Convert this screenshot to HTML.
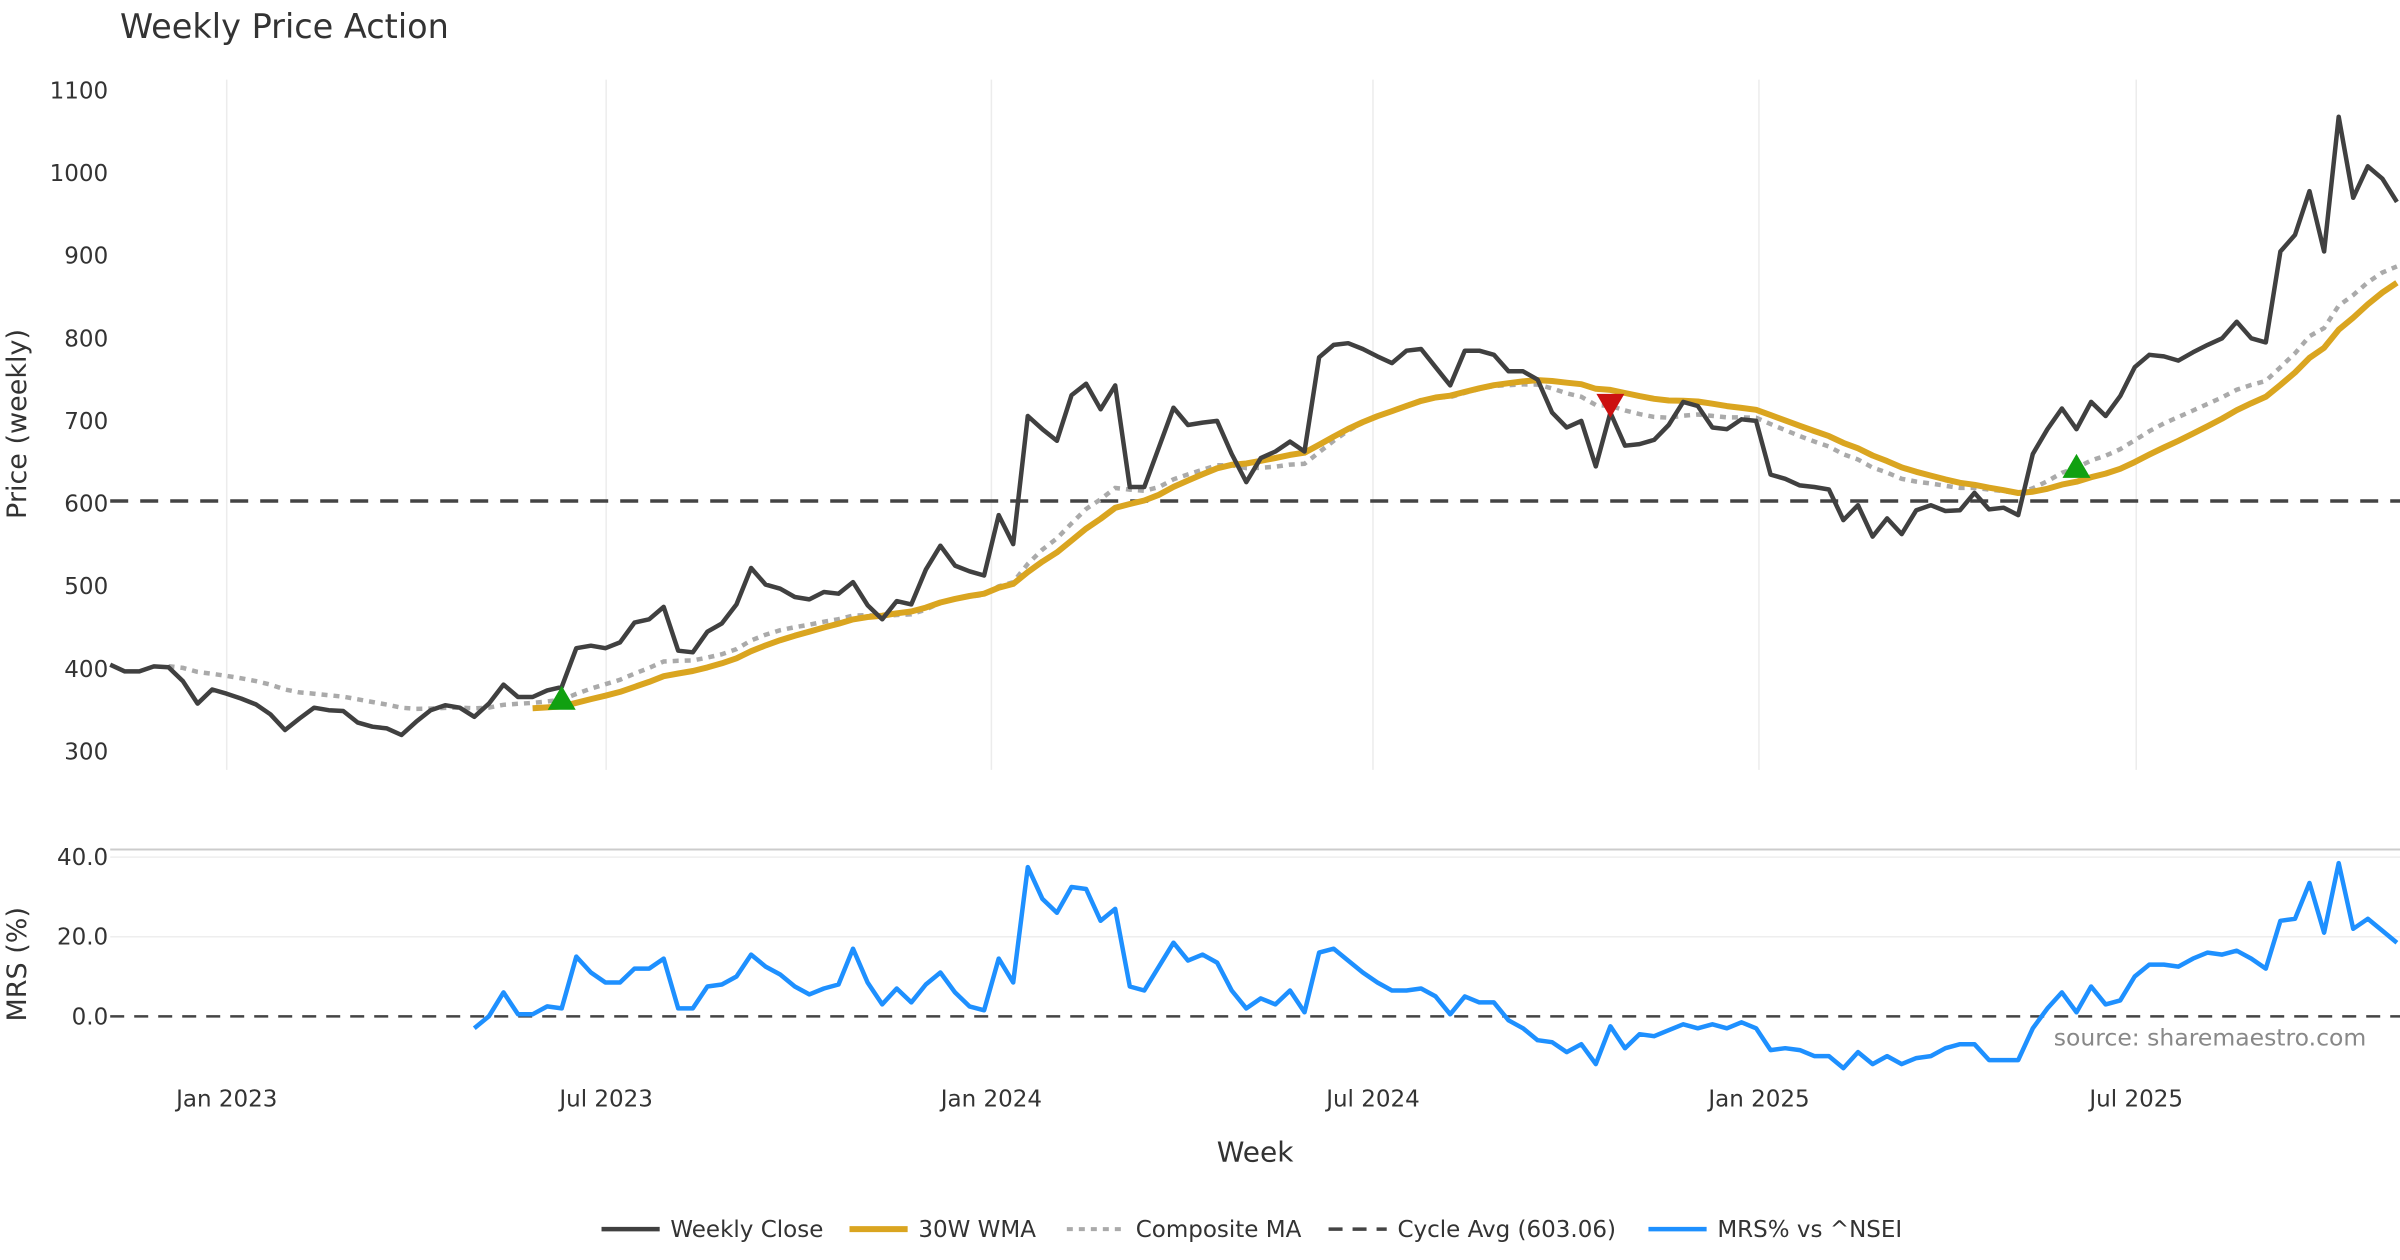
<!DOCTYPE html>
<html><head><meta charset="utf-8"><style>
html,body{margin:0;padding:0;background:#fff;}
svg{display:block;font-family:"DejaVu Sans","Liberation Sans",sans-serif;}
</style></head><body>
<svg id="chart" width="2400" height="1260" viewBox="0 0 2400 1260" xmlns="http://www.w3.org/2000/svg">
<rect width="2400" height="1260" fill="#fff"/>
<text x="120" y="38" font-size="33.5" fill="#333">Weekly Price Action</text>
<g id="grid"></g><g id="series"></g><g id="axes"></g>
</svg>
<script>
const closes = [405,397,397,403,402,385,358,375,370,364,357,345,326,340,353,350,349,335,330,328,320,336,350,356,353,342,358,381,366,366,374,378,425,428,425,432,456,460,475,422,420,445,455,478,522,502,497,487,484,493,491,505,477,460,482,478,520,549,525,518,513,586,551,706,690,676,731,745,714,743,620,620,668,716,695,698,700,660,626,655,663,675,663,777,792,794,787,778,770,785,787,765,743,785,785,780,760,760,750,710,692,700,645,710,670,672,677,695,723,718,692,690,702,700,635,630,622,620,617,580,598,560,582,563,592,598,591,592,613,593,595,586,660,690,715,690,723,706,730,765,780,778,773,783,792,800,820,800,795,905,925,978,905,1068,970,1008,993,965];
const mrsStart = 25;
const mrsValues = [-3,0,6,0.5,0.5,2.5,2,15,11,8.5,8.5,12,12,14.5,2,2,7.5,8,10,15.5,12.5,10.5,7.5,5.5,7,8,17,8.5,3,7,3.5,8,11,6,2.5,1.5,14.5,8.5,37.5,29.5,26,32.5,32,24,27,7.5,6.5,12.5,18.5,14,15.5,13.5,6.5,2,4.5,3,6.5,1,16,17,14,11,8.5,6.5,6.5,7,5,0.5,5,3.5,3.5,-1,-3,-6,-6.5,-9,-7,-12,-2.5,-8,-4.5,-5,-3.5,-2,-3,-2,-3,-1.5,-3,-8.5,-8,-8.5,-10,-10,-13,-9,-12,-10,-12,-10.5,-10,-8,-7,-7,-11,-11,-11,-3,2,6,1,7.5,3,4,10,13,13,12.5,14.5,16,15.5,16.5,14.5,12,24,24.5,33.5,21,38.5,22,24.5,21.5,18.5];
const cycleAvg = 603.06;
const buySignals = [31,135];
const sellSignals = [103];
const priceTicks = [300,400,500,600,700,800,900,1000,1100];
const mrsTicks = [0,20,40];
const monthLabels = ["Jan 2023","Jul 2023","Jan 2024","Jul 2024","Jan 2025","Jul 2025"];
const monthIdx = [8,34.05,60.5,86.7,113.2,139.1];

const S=1.5306;
const NS="http://www.w3.org/2000/svg";
const xOf=i=>(72+i*(1566-72)/157)*S;
const yP=p=>(59+(1100-p)*0.54)*S;
const yM=m=>(664-m*2.6)*S;
function mk(tag,attrs,parent){const e=document.createElementNS(NS,tag);for(const k in attrs)e.setAttribute(k,attrs[k]);parent.appendChild(e);return e;}
const grid=document.getElementById('grid'),ser=document.getElementById('series'),ax=document.getElementById('axes');

const wma=closes.map((c,i)=>{if(i<29)return null;let s=0,w=0;for(let k=0;k<30;k++){s+=closes[i-29+k]*(k+1);w+=k+1;}return s/w;});
function ema(n){const a=2/(n+1);let e=closes[0];return closes.map((c,i)=>{e=i===0?c:a*c+(1-a)*e;return e;});}
const e10=ema(10),e20=ema(20),e30=ema(30);
const comp=closes.map((c,i)=>i<4?null:(e10[i]+e20[i]+e30[i])/3);

monthIdx.forEach((mi,j)=>{
  const x=xOf(mi);
  let l=mk('line',{x1:x,x2:x,y1:52*S,y2:503*S,stroke:'#ececec','stroke-width':1.5},grid);
  
  
  let t=mk('text',{x:x,y:723*S,'font-size':23,fill:'#333','text-anchor':'middle'},ax);
  t.textContent=monthLabels[j];
  
  
});
priceTicks.forEach(p=>{
  let t=mk('text',{x:72*S-2,y:yP(p)+8,'font-size':23,fill:'#333','text-anchor':'end'},ax);
  t.textContent=p;
  
  
});
let b=mk('line',{x1:72*S,x2:2400,y1:555*S,y2:555*S,stroke:'#ccc','stroke-width':2},grid);


mrsTicks.forEach(m=>{
  if(m>0){let g=mk('line',{x1:72*S,x2:2400,y1:yM(m),y2:yM(m),stroke:'#eee','stroke-width':1.5},grid);
  
  }
  let t=mk('text',{x:72*S-2,y:yM(m)+8,'font-size':23,fill:'#333','text-anchor':'end'},ax);
  t.textContent=m.toFixed(1);
  
  
});
let cl=mk('line',{x1:72*S,x2:2400,y1:yP(cycleAvg),y2:yP(cycleAvg),stroke:'#444','stroke-width':3.5,'stroke-dasharray':'18,12'},ser);


let zl=mk('line',{x1:72*S,x2:2400,y1:yM(0),y2:yM(0),stroke:'#444','stroke-width':2.5,'stroke-dasharray':'14,10'},ser);



function poly(vals,yf,off){const pts=[];vals.forEach((v,i)=>{if(v!==null)pts.push(xOf(i+off).toFixed(1)+','+yf(v).toFixed(1));});return pts.join(' ');}
let pc=mk('polyline',{points:poly(comp,yP,0),fill:'none',stroke:'#aaa','stroke-width':4.5,'stroke-dasharray':'6,6'},ser);


let pw=mk('polyline',{points:poly(wma,yP,0),fill:'none',stroke:'#DAA520','stroke-width':6,'stroke-linejoin':'round'},ser);


let pcl=mk('polyline',{points:poly(closes,yP,0),fill:'none',stroke:'#404040','stroke-width':4.5,'stroke-linejoin':'round'},ser);


let pm=mk('polyline',{points:poly(mrsValues,yM,mrsStart),fill:'none',stroke:'#1E90FF','stroke-width':4.5,'stroke-linejoin':'round'},ser);



buySignals.forEach(i=>{const x=xOf(i),y=yP(comp[i]);
  let t=mk('polygon',{points:`${x-14},${y+10} ${x+14},${y+10} ${x},${y-14}`,fill:'#11A011'},ser);
  
  });
sellSignals.forEach(i=>{const x=xOf(i),y=yP(comp[i]);
  let t=mk('polygon',{points:`${x-14},${y-12} ${x+14},${y-12} ${x},${y+12}`,fill:'#CC1111'},ser);
  
  });

let yt=mk('text',{x:0,y:0,'font-size':27,fill:'#333','text-anchor':'middle',transform:`translate(${11*S+9},${277*S}) rotate(-90)`},ax);
yt.textContent='Price (weekly)';


let mt=mk('text',{x:0,y:0,'font-size':27,fill:'#333','text-anchor':'middle',transform:`translate(${11*S+9},${630*S}) rotate(-90)`},ax);
mt.textContent='MRS (%)';


let xt=mk('text',{x:820*S,y:759*S,'font-size':28,fill:'#333','text-anchor':'middle'},ax);
xt.textContent='Week';


let src=mk('text',{x:1546*S,y:683*S,'font-size':23.5,fill:'#888','text-anchor':'end'},ax);
src.textContent='source: sharemaestro.com';



const legItems=[['Weekly Close','#404040',4.5,'',393],['30W WMA','#DAA520',6,'',555],['Composite MA','#aaa',4,'6,6',697],['Cycle Avg (603.06)','#444',3.5,'14,10',868],['MRS% vs ^NSEI','#1E90FF',4.5,'',1077]];
legItems.forEach(it=>{
  const g=mk('g',{},ax);
  
  
  const y=803*S;
  mk('line',{x1:it[4]*S,x2:(it[4]+38)*S,y1:y,y2:y,stroke:it[1],'stroke-width':it[2],'stroke-dasharray':it[3]},g);
  let t=mk('text',{x:(it[4]+45)*S,y:y+8,'font-size':23,fill:'#333'},g);
  t.textContent=it[0];
});
</script>
</body></html>
